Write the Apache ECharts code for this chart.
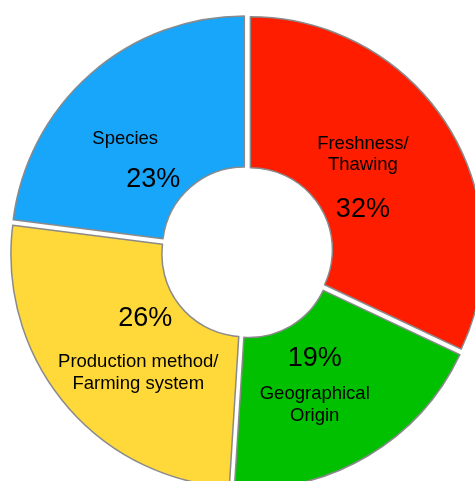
<!DOCTYPE html>
<html><head><meta charset="utf-8">
<script src="https://cdn.jsdelivr.net/npm/echarts@6/dist/echarts.min.js"></script>
<style>html,body{margin:0;padding:0;background:#fff}#c{width:475px;height:481px}</style>
</head><body><div id="c"></div>
<script>
var categories = ['Freshness/\nThawing', 'Geographical\nOrigin', 'Production method/\nFarming system', 'Species'];
var values = [32, 19, 26, 23];
var colors = ['#FF1D00', '#00C000', '#FFD83A', '#18A6FA'];
var nameFirst = [true, false, false, true];

var richByItem = [
  {n: {fontSize: 18.5, lineHeight: 21}, p: {fontSize: 27, lineHeight: 69}},
  {n: {fontSize: 18.5, lineHeight: 22}, p: {fontSize: 27, lineHeight: 48}},
  {n: {fontSize: 18.5, lineHeight: 22}, p: {fontSize: 27, lineHeight: 65, padding: [0, 0, 0, 14]}},
  {n: {fontSize: 18.5, lineHeight: 21, padding: [0, 56, 0, 0]}, p: {fontSize: 27, lineHeight: 60}}
];
var labelDx = [-23, -16, 18, 15];
var labelDy = [25, -13, -16, 40];

var data = categories.map(function (c, i) {
  var nm = c.split('\n').map(function (s) { return '{n|' + s + '}'; }).join('\n');
  var pc = '{p|' + values[i] + '%}';
  return {
    name: c, value: values[i], selected: true,
    itemStyle: {color: colors[i]},
    label: {
      formatter: nameFirst[i] ? nm + '\n' + pc : pc + '\n' + nm,
      rich: richByItem[i]
    }
  };
});

var chart = echarts.init(document.getElementById('c'), null, {renderer: 'canvas'});
chart.setOption({
  animation: false,
  series: [{
    type: 'pie',
    center: [247, 252],
    radius: [82, 233],
    startAngle: 90,
    clockwise: true,
    selectedMode: 'multiple',
    selectedOffset: 4,
    avoidLabelOverlap: false,
    itemStyle: {borderColor: '#8a8a8a', borderWidth: 1.5},
    label: {
      show: true, position: 'inside', color: '#000',
      fontFamily: 'Liberation Sans, Arial, sans-serif', align: 'center'
    },
    labelLine: {show: false},
    labelLayout: function (p) { return {dx: labelDx[p.dataIndex], dy: labelDy[p.dataIndex]}; },
    emphasis: {disabled: true},
    data: data
  }]
});
</script></body></html>
